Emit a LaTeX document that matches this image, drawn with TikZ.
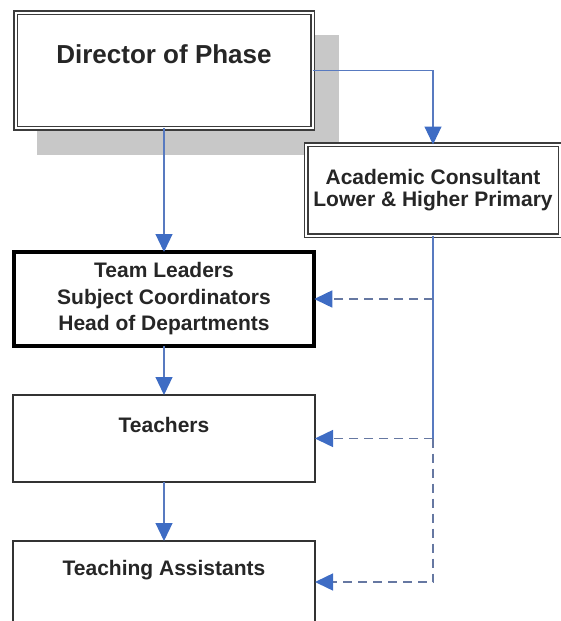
\documentclass[tikz,border=0pt]{standalone}
\usepackage{fontspec}
\setmainfont{Liberation Sans}
\usetikzlibrary{positioning,arrows.meta,backgrounds}
\definecolor{linkblue}{RGB}{88,122,192}
\definecolor{tipblue}{RGB}{62,108,196}
\definecolor{dashgray}{RGB}{102,120,162}
\definecolor{shadowgray}{RGB}{200,200,200}
\definecolor{framegray}{RGB}{60,60,60}

\begin{document}
\begin{tikzpicture}[x=1pt,y=-1pt,
  post node/.style={draw, fill=white, inner sep=0pt, outer sep=0pt, align=center,
    text=black!85, font=\bfseries\fontsize{21}{22}\selectfont},
  double node/.style={post node, draw=framegray, line width=1.5pt, double=white, double distance=2pt},
  lead node/.style={post node, line width=4pt, font=\bfseries\fontsize{21}{26.5}\selectfont},
  plain node/.style={post node, draw=black!80, line width=2pt},
  link/.style={draw=linkblue, line width=1.2pt, -{Triangle[length=18pt,width=17pt,color=tipblue]}},
  dash link/.style={link, draw=dashgray, line width=1.5pt, dash pattern=on 9pt off 6pt}]
  \useasboundingbox (0,0) rectangle (561,621);
  \clip (0,0) rectangle (561,621);

  \node[double node, minimum width=297pt, minimum height=115.5pt, text height=50.5pt, text depth=65pt,
    font=\bfseries\fontsize{26}{30}\selectfont] (1) at (164,70.25) {Director of Phase};
  \node[double node, minimum width=254pt, minimum height=91pt] (2) at (433,190)
    {Academic Consultant\\Lower \& Higher Primary};
  \node[lead node, minimum width=300.5pt, minimum height=94pt] (3) [below=124pt of 1]
    {Team Leaders\\Subject Coordinators\\Head of Departments};
  \node[plain node, minimum width=302pt, minimum height=87pt, text height=37pt, text depth=50pt]
    (4) [below=49pt of 3] {Teachers};
  \node[plain node, minimum width=302pt, minimum height=82pt, text height=34pt, text depth=48pt]
    (5) [below=59pt of 4] {Teaching Assistants};

  % shadow behind the director box
  \begin{scope}[on background layer]
    \fill[shadowgray] ([shift={(21.5,22.5)}]1.north west) rectangle ([shift={(26.5,27)}]1.south east);
  \end{scope}

  \coordinate (j1) at (2.south |- 3.east);
  \coordinate (j2) at (2.south |- 4.east);
  \coordinate (j3) at (2.south |- 5.east);

  \draw[link] (1.east) -| (2.north);
  \path[link]
    (1) edge (3)
    (3) edge (4)
    (4) edge (5);

  \draw[draw=linkblue, line width=1.2pt] (2.south) -- (j2);
  \draw[dash link] (j1) -- (3.east);
  \draw[dash link] (j2) -- (4.east);
  \draw[dash link] (j2) -- (j3) -- (5.east);
\end{tikzpicture}
\end{document}
